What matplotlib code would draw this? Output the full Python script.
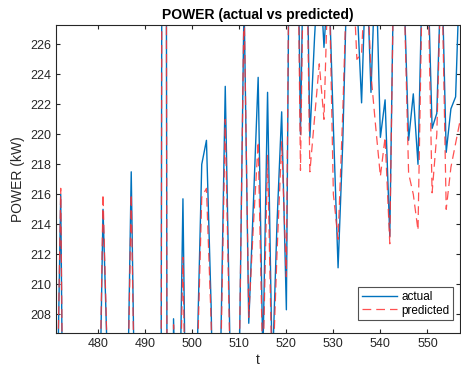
import matplotlib
matplotlib.use('Agg')
import matplotlib.pyplot as plt

# time index
t = list(range(471, 558))

# measured power (kW)
actual = [197.0, 216.0, 180.0, 190.0, 195.0, 192.0, 188.0, 193.0, 190.0, 196.0,
          215.0, 204.0, 195.0, 190.0, 192.0, 198.0, 217.5, 196.0, 190.0, 188.0,
          192.0, 185.0, 130.0, 330.0, 120.0, 207.7, 195.0, 215.7, 190.0, 192.0,
          205.0, 218.0, 219.6, 208.5, 190.0, 205.0, 223.2, 206.0, 195.0, 205.0,
          229.0, 207.4, 215.5, 223.8, 205.0, 222.8, 204.0, 214.0, 221.5, 208.3,
          250.0, 245.0, 220.0, 240.0, 219.8, 226.5, 232.0, 225.8, 230.8, 220.5,
          211.1, 219.5, 232.0, 235.0, 229.0, 222.1, 232.0, 222.8, 232.0, 219.8,
          222.3, 213.2, 235.0, 235.0, 230.0, 219.6, 222.7, 218.0, 232.0, 232.0,
          220.4, 221.4, 232.0, 218.8, 221.7, 222.5, 232.0]

# model output (kW)
predicted = [197.0, 216.4, 182.0, 190.0, 195.0, 192.0, 188.0, 193.0, 190.0, 196.0,
             216.0, 204.0, 195.0, 190.0, 192.0, 198.0, 216.0, 196.0, 190.0, 188.0,
             192.0, 185.0, 130.0, 330.0, 120.0, 207.3, 196.0, 211.8, 192.0, 195.0,
             204.0, 215.8, 216.4, 207.5, 190.0, 204.0, 221.0, 205.0, 195.0, 205.0,
             229.0, 207.8, 214.0, 219.5, 204.0, 218.6, 203.0, 212.0, 219.5, 210.5,
             250.0, 245.0, 217.6, 240.0, 217.5, 221.1, 224.7, 221.0, 232.0, 216.0,
             213.0, 221.5, 232.0, 232.0, 225.0, 225.4, 232.0, 224.0, 220.5, 217.2,
             219.8, 212.7, 235.0, 235.0, 230.0, 217.4, 216.0, 213.6, 232.0, 232.0,
             216.1, 220.0, 232.0, 215.0, 217.8, 219.4, 221.0]

plt.rcParams['font.family'] = ['Liberation Sans', 'DejaVu Sans']

fig = plt.figure(figsize=(4.61, 3.69), dpi=100)
ax = fig.add_axes([0.1215, 0.0967, 0.877, 0.8355])

ax.plot(t, actual, color='#0072BD', linewidth=1.0, label='actual')
ax.plot(t, predicted, color='#FF3333', linewidth=0.9, linestyle=(0, (7, 4)),
        alpha=0.85, label='predicted')

ax.set_xlim(471, 557)
ax.set_ylim(206.73, 227.29)
ax.set_xticks([480, 490, 500, 510, 520, 530, 540, 550])
ax.set_yticks([208, 210, 212, 214, 216, 218, 220, 222, 224, 226])

ax.tick_params(direction='in', length=3, width=0.8, top=True, right=True,
               labelsize=9, colors='#262626')
for s in ax.spines.values():
    s.set_color('#262626')
    s.set_linewidth(0.8)

ax.set_title('POWER (actual vs predicted)', fontsize=10, fontweight='bold', pad=4)
ax.set_xlabel('t', fontsize=10, color='#262626', labelpad=2)
ax.set_ylabel('POWER (kW)', fontsize=10, color='#262626', labelpad=4)

leg = ax.legend(loc='lower right', bbox_to_anchor=(0.983, 0.043), fontsize=8.5,
                frameon=True, fancybox=False, borderpad=0.3, handlelength=3.0,
                handletextpad=0.4, labelspacing=0.15, borderaxespad=0)
leg.get_frame().set_edgecolor('#262626')
leg.get_frame().set_linewidth(0.8)

fig.savefig('out.png', dpi=100)
